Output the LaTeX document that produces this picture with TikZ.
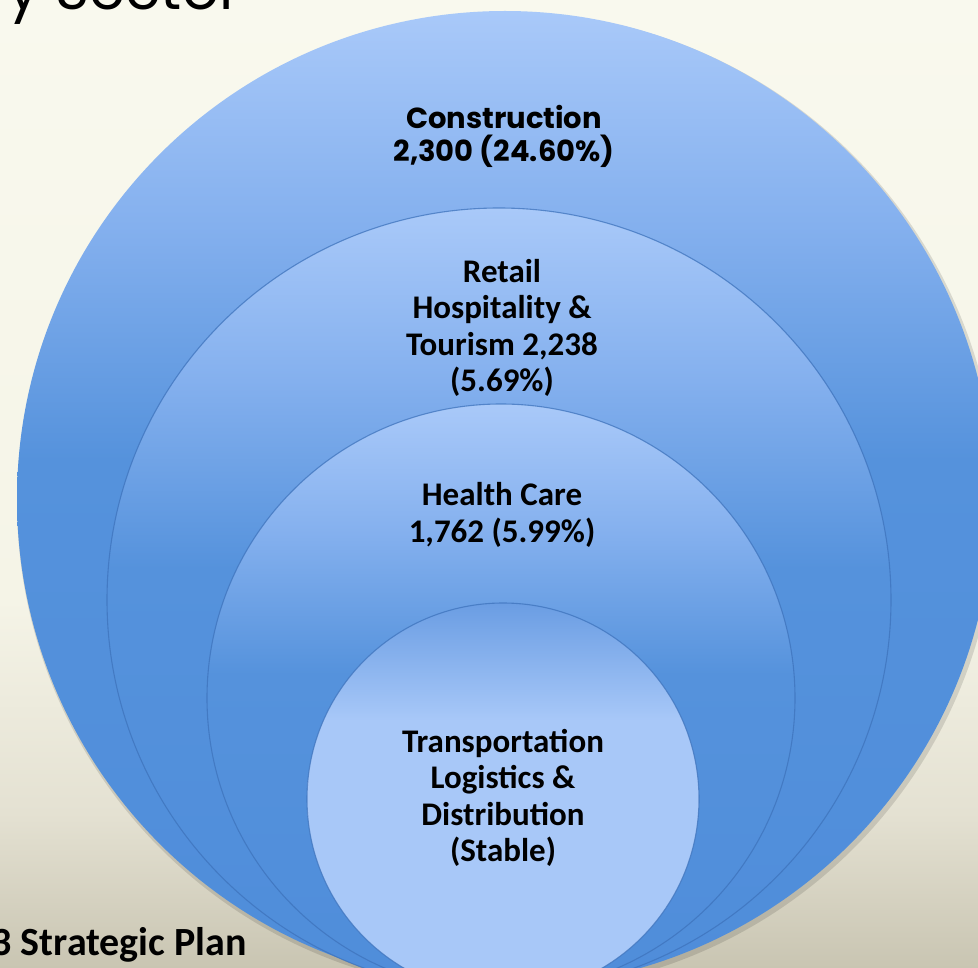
\documentclass[tikz,border=0pt]{standalone}
\usepackage{fontspec}
\setmainfont{Carlito}
\newfontfamily\geo{Poppins}
\definecolor{bgT}{HTML}{F9F9EE}
\definecolor{bgL}{HTML}{F5F4E7}
\definecolor{bgM}{HTML}{E4E1D2}
\definecolor{bgD}{HTML}{C9C5B2}
\definecolor{cL}{HTML}{A9C9F9}
\definecolor{cM}{HTML}{84B0EE}
\definecolor{cD}{HTML}{5592DC}
\definecolor{cE}{HTML}{4F8DDA}
\definecolor{tT}{HTML}{6A9DE3}
\definecolor{tL}{HTML}{A8C8F8}
\definecolor{rim}{HTML}{3E73BC}
\pgfdeclareverticalshading{bgshade}{100bp}{color(0bp)=(bgD); color(25bp)=(bgD); color(33bp)=(bgM); color(44bp)=(bgL); color(75bp)=(bgT); color(100bp)=(bgT)}
\pgfdeclareverticalshading{ringshade}{100bp}{color(0bp)=(cE); color(25bp)=(cE); color(52bp)=(cD); color(64bp)=(cM); color(75bp)=(cL); color(100bp)=(cL)}
\pgfdeclareverticalshading{coreshade}{100bp}{color(0bp)=(tL); color(25bp)=(tL); color(60bp)=(tL); color(75bp)=(tT); color(100bp)=(tT)}
\tikzset{
  ring/.style={shading=ringshade},
  ringline/.style={draw=rim, draw opacity=0.75, line width=1.1pt},
  lbl/.style={align=center, inner sep=0pt, font=\bfseries\fontsize{33}{36.5}\selectfont, text=black},
  geolbl/.style={align=center, inner sep=0pt, font=\geo\bfseries\fontsize{29}{33}\selectfont, text=black}
}
\begin{document}
\begin{tikzpicture}[x=1pt,y=-1pt]
\useasboundingbox (0,0) rectangle (978,968);
\fill[shading=bgshade] (0,0) rectangle (978,968);
% soft shadow of outer circle
\fill[black, opacity=0.12] (507,502) circle[radius=490pt];
% circles
\path[ring] (505,499) circle[radius=488pt];
\path[ring, ringline] (499,600) circle[radius=392pt];
\path[ring, ringline] (501,698) circle[radius=294pt];
\path[shading=coreshade, ringline] (503,799) circle[radius=196pt];
% labels
\node[geolbl] (cons) at (504,136) {Construction\\2,300 (24.60\%)};
\node[lbl] (retail) at (502,328) {Retail\\Hospitality \&\\Tourism 2,238\\(5.69\%)};
\node[lbl] (health) at (502,515) {Health Care\\1,762 (5.99\%)};
\node[lbl] (trans) at (503,798) {Transportation\\Logistics \&\\Distribution\\(Stable)};
% partial title and footer
\node[anchor=base east, inner sep=0pt, font=\geo\fontsize{58}{60}\selectfont] (title) at (241,10) {ry Sector};
\node[anchor=base east, inner sep=0pt, font=\bfseries\fontsize{40}{44}\selectfont] (foot) at (247,955) {3 Strategic Plan};
\end{tikzpicture}
\end{document}
